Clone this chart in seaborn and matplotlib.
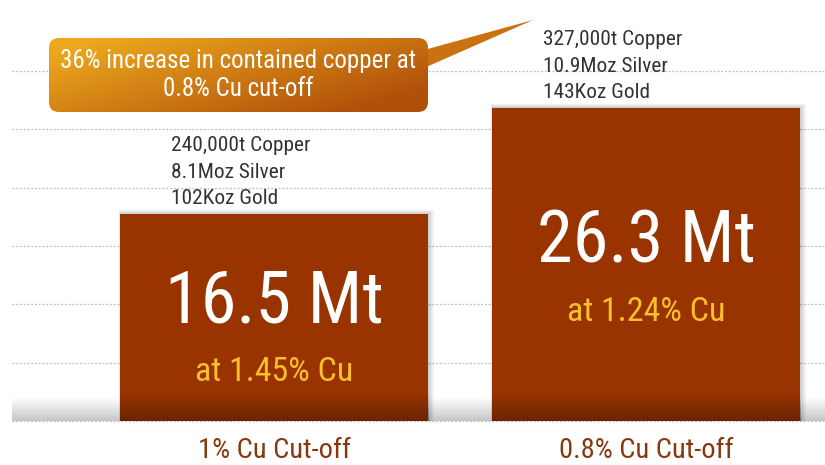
import numpy as np
import matplotlib
matplotlib.use("Agg")
import matplotlib.pyplot as plt
import matplotlib.transforms as mtransforms
from matplotlib.colors import to_rgb
from matplotlib.patches import FancyBboxPatch, Polygon, Rectangle
import seaborn as sns

# Chart data
categories = ["1% Cu Cut-off", "0.8% Cu Cut-off"]
tonnage_mt = [16.5, 26.3]
grade_labels = ["at 1.45% Cu", "at 1.24% Cu"]
metal_notes = ["240,000t Copper\n8.1Moz Silver\n102Koz Gold",
               "327,000t Copper\n10.9Moz Silver\n143Koz Gold"]
callout_text = "36% increase in contained copper at\n0.8% Cu cut-off"

W, H = 825, 465
sns.set_theme(style="white")
plt.rcParams["font.family"] = ["Roboto Condensed", "Roboto", "DejaVu Sans"]

BAR_C = "#993300"
BAR_W = 0.828
FLOOR = 2.63          # depth of the grey "floor" strip below zero (in Mt units)
Y0, SY = 392.5, 10.82  # pixel row of zero, pixels per Mt
X0, SX = 274.0, 372.0  # pixel column of first bar centre, pixels per category


def X(px):
    return (px - X0) / SX


def Y(py):
    return (Y0 - py) / SY


fig = plt.figure(figsize=(W / 100, H / 100), dpi=100)
fig.patch.set_facecolor("white")
ax = fig.add_axes([0, 0, 1, 1])

sns.barplot(x=categories, y=tonnage_mt, color=BAR_C, saturation=1,
            width=BAR_W, linewidth=0, ax=ax, zorder=3)

# extend bars down through the floor strip, add shadow + dark bottom fade
shade = np.zeros((40, 2, 4))
shade[..., 3] = np.linspace(0.3, 0, 40)[:, None]
for p in list(ax.patches):
    p.set_y(-FLOOR)
    p.set_height(p.get_height() + FLOOR)
    x0, w, h = p.get_x(), p.get_width(), p.get_height()
    for k in range(1, 5):
        ax.add_patch(Rectangle((x0 - k * 0.2 / SX, -FLOOR), w + k * 1.6 / SX,
                               h + k * 1.0 / SY, color="black", alpha=0.05,
                               lw=0, zorder=2.5))
    im = ax.imshow(shade, extent=[x0, x0 + w, -FLOOR, -FLOOR + 2.6],
                   origin="lower", aspect="auto", zorder=4)
    im.set_clip_path(p)

# dotted gridlines
grid_y = np.arange(-FLOOR, 31, 5.39)
ax.hlines(grid_y, X(12), X(W), colors="#bdbdbd", linestyles=(0, (1.5, 1.5)),
          lw=0.9, zorder=2)

# grey floor strip
floor_grad = np.ones((40, 2, 3))
floor_grad *= np.linspace(0.78, 1.0, 40)[:, None, None]
ax.imshow(floor_grad, extent=[X(12), X(W), -FLOOR, Y(397)], origin="lower",
          aspect="auto", zorder=1.5)

# labels inside and above bars
for i, v in enumerate(tonnage_mt):
    label_y = v - 0.43 * (v + FLOOR)
    ax.text(i, label_y, f"{v} Mt", color="white", fontsize=52,
            ha="center", va="center", zorder=5)
    ax.annotate(grade_labels[i], xy=(i, label_y), xytext=(0, -50),
                textcoords="offset points", color="#FBBF2A", fontsize=24.5,
                ha="center", va="center", zorder=5)
    ax.annotate(metal_notes[i], xy=(i - BAR_W / 2, v), xytext=(37, 4),
                textcoords="offset points", color="#333333", fontsize=15.4,
                ha="left", va="bottom", linespacing=1.5, zorder=5)
    ax.text(i, Y(450), categories[i], color="#86380F", fontsize=20.5,
            ha="center", va="center", zorder=5)

# callout bubble
pxT = mtransforms.Affine2D().scale(1, -1).translate(0, H)
box = FancyBboxPatch((49, 38), 379, 74, boxstyle="round,pad=0,rounding_size=10",
                     transform=pxT, fc="none", ec="none")
ax.add_patch(Polygon([(424, 50), (533, 20), (424, 68)], closed=True,
                     transform=pxT, fc="#C9720F", ec="none", zorder=5))
c1, c2 = np.array(to_rgb("#EDA81D")), np.array(to_rgb("#B0500A"))
u, vv = np.meshgrid(np.linspace(0, 1, 200), np.linspace(0, 1, 60))
t = np.clip(0.75 * u + 0.5 * vv - 0.1, 0, 1)[..., None]
grad = c1 * (1 - t) + c2 * t
gim = ax.imshow(grad, extent=[X(49), X(428), Y(112), Y(38)], origin="upper",
                aspect="auto", zorder=6)
gim.set_clip_path(box)
ax.text(238.5, 75, callout_text, transform=pxT, color="white", fontsize=18,
        ha="center", va="center", linespacing=1.2, zorder=7)

ax.set_xlim(X(0), X(W))
ax.set_ylim(Y(H), Y(0))
ax.set_axis_off()

fig.savefig("out.png", dpi=100, facecolor="white")
